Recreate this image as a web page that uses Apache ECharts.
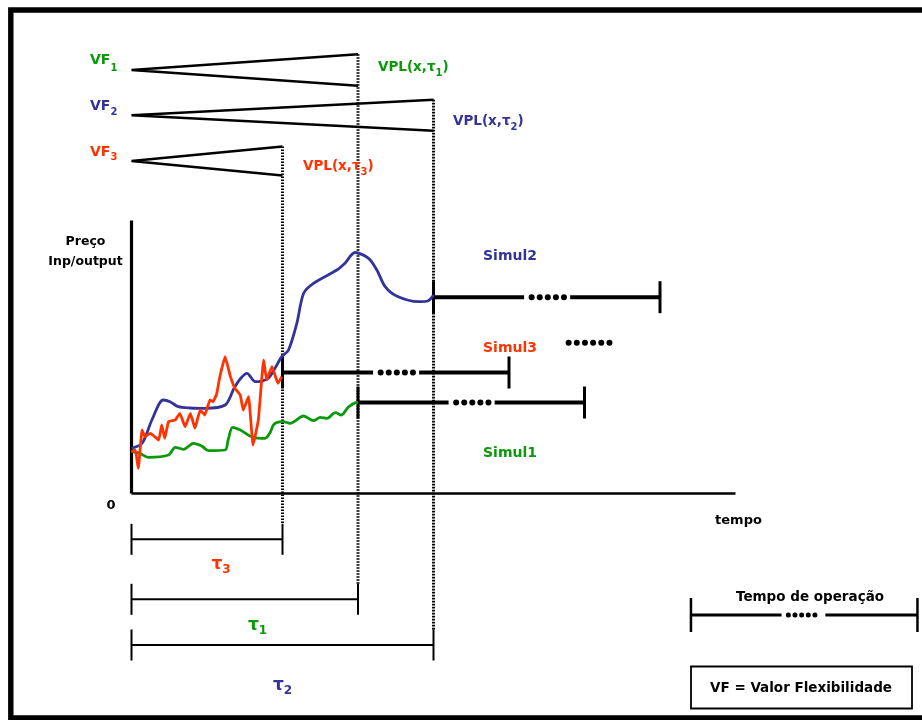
<!DOCTYPE html>
<html><head><meta charset="utf-8">
<script src="https://cdn.jsdelivr.net/npm/echarts@6/dist/echarts.min.js"></script>
<style>html,body{margin:0;padding:0;background:#fff}#c{width:922px;height:720px}</style>
</head><body><div id="c"></div>
<script>
// ---------------- data (time units: tau3 = 2, tau1 = 3, tau2 = 4) ----------------
const simulNames = ['Simul1', 'Simul2', 'Simul3'];
const tauNames = ['1', '2', '3'];
const tauValues = [3, 4, 2];              // exercise time of each option / simulation
const operationTime = 3;                  // length of operation period
const barLevels = [9.1, 19.63, 12.1];     // price level held during operation
const vfApex = [42.35, 37.82, 33.25];     // VF triangles (schematic)
const vfSpread = [1.58, 1.55, 1.45];
const yAxisTop = 27.3;
const xAxisEnd = 8;

const simul1 = [[0.00,4.18],[0.11,4.02],[0.22,3.62],[0.49,3.85],[0.58,4.62],[0.69,4.42],[0.82,5.02],[0.93,4.75],[1.02,4.28],[1.24,4.35],[1.28,5.35],[1.34,6.62],[1.44,6.35],[1.61,5.62],[1.77,5.52],[1.83,6.02],[1.88,6.85],[1.92,7.08],[2.01,7.18],[2.10,7.02],[2.28,7.75],[2.41,7.28],[2.50,7.62],[2.59,7.52],[2.70,8.08],[2.78,7.85],[2.87,8.62],[2.97,9.08],[3.00,9.10]];
const simul2 = [[0.00,4.52],[0.14,5.02],[0.27,7.35],[0.42,9.35],[0.51,9.18],[0.62,8.68],[0.78,8.55],[0.97,8.52],[1.24,8.85],[1.36,10.55],[1.45,11.55],[1.53,12.02],[1.64,11.18],[1.81,11.52],[1.90,12.52],[1.99,13.68],[2.08,14.35],[2.19,17.02],[2.28,20.02],[2.41,21.02],[2.72,22.35],[2.83,23.05],[2.96,24.10],[3.14,23.52],[3.25,22.35],[3.36,20.68],[3.51,19.75],[3.80,19.18],[3.93,19.28],[4.00,19.85]];
const simul3 = [[0.00,4.18],[0.05,4.35],[0.09,2.52],[0.14,6.35],[0.18,5.68],[0.25,6.02],[0.36,5.35],[0.40,6.85],[0.44,5.52],[0.49,7.18],[0.58,7.35],[0.64,8.02],[0.71,6.68],[0.78,8.02],[0.84,6.52],[0.91,8.35],[0.97,7.85],[1.04,9.35],[1.08,9.18],[1.13,10.02],[1.17,11.68],[1.24,13.68],[1.31,11.68],[1.37,10.52],[1.44,9.85],[1.48,8.35],[1.55,9.68],[1.61,4.85],[1.68,7.35],[1.75,13.35],[1.79,11.35],[1.86,12.68],[1.94,11.02],[1.99,11.68]];

// ---------------- styles ----------------
const GREEN = '#0a990a', BLUE = '#333399', RED = '#ff3300';
const colors = [GREEN, BLUE, RED];
const FONT = '"DejaVu Sans"';
const bracketLevels = [-10.58, -15.15, -4.58];
const bracketH = 1.55;

const chart = echarts.init(document.getElementById('c'), null, {renderer: 'canvas'});

const blackLines = (coordsList, width, type) => ({
  type: 'lines', coordinateSystem: 'cartesian2d', polyline: true, silent: true,
  lineStyle: {color: '#000', width: width, type: type || 'solid', opacity: 1, curveness: 0},
  data: coordsList.map(c => ({coords: c})), z: 3
});

const series = [];
// axes (drawn as partial lines)
series.push(blackLines([[[0, yAxisTop], [0, 0]]], 3.2));
series.push(blackLines([[[0, 0], [xAxisEnd, 0]]], 2.6));

// VF triangles
const tri = [];
for (let i = 0; i < 3; i++) {
  tri.push([[tauValues[i], vfApex[i] + vfSpread[i]], [0, vfApex[i]], [tauValues[i], vfApex[i] - vfSpread[i]]]);
}
series.push(blackLines(tri, 2.6));

// dotted verticals
const dots = [];
for (let i = 0; i < 3; i++) {
  dots.push([[tauValues[i], vfApex[i] + vfSpread[i]], [tauValues[i], bracketLevels[i] + bracketH]]);
}
series.push(blackLines(dots, 3, [1.6, 1.4]));

// brackets
const br = [];
for (let i = 0; i < 3; i++) {
  const y = bracketLevels[i], t = tauValues[i];
  br.push([[0, y + bracketH], [0, y - bracketH]]);
  br.push([[0, y], [t, y]]);
  br.push([[t, y + bracketH], [t, y - bracketH]]);
}
series.push(blackLines(br, 2));

// operation bars
function opBar(start, level, len, width, tickW, tickH, solidEnd, resume, dotStart, dotStep, dotN, dotSize) {
  const out = [];
  out.push(blackLines([[[start, level], [start + solidEnd, level]], [[start + resume, level], [start + len, level]]], width));
  out.push(blackLines([[[start, level + tickH], [start, level - tickH]], [[start + len, level + tickH], [start + len, level - tickH]]], tickW));
  const pts = [];
  for (let k = 0; k < dotN; k++) pts.push([start + dotStart + k * dotStep, level]);
  out.push({type: 'scatter', silent: true, symbol: 'circle', symbolSize: dotSize, itemStyle: {color: '#000', opacity: 1}, data: pts, z: 4});
  return out;
}
for (let i = 0; i < 3; i++) {
  series.push(...opBar(tauValues[i], barLevels[i], operationTime, 4, 3, 1.6, 1.2, 1.81, 1.30, 0.107, 5, 6));
}
// standalone "......"
const ell = [];
for (let k = 0; k < 6; k++) ell.push([5.79 + k * 0.108, 15.08]);
series.push({type: 'scatter', silent: true, symbol: 'circle', symbolSize: 6, itemStyle: {color: '#000', opacity: 1}, data: ell});
// legend operation bar
series.push(...opBar(7.41, -12.15, operationTime, 3, 2.5, 1.7, 1.2, 1.78, 1.29, 0.088, 5, 5));

// price curves
[[simul1, GREEN, 0.3], [simul2, BLUE, 0.3], [simul3, RED, 0.1]].forEach(([d, c, sm], i) => {
  series.push({type: 'line', name: simulNames[i], data: d, smooth: sm, symbol: 'none', silent: true,
    lineStyle: {color: c, width: 2.8}, z: 5});
});

// ---------------- text ----------------
const mctx = document.createElement('canvas').getContext('2d');
function tw(s, size) { mctx.font = 'bold ' + size + 'px ' + FONT; return mctx.measureText(s).width; }
function txt(t, x, y, color, size, align) {
  return {type: 'text', x: x, y: y, silent: true, z: 10,
    style: {text: t, fill: color, fontSize: size, fontWeight: 'bold', fontFamily: FONT,
      align: align || 'left', verticalAlign: 'middle', textAlign: align || 'left', textVerticalAlign: 'middle'}};
}
function subTxt(parts, x, y, color, size, subSize, subDy) {
  const els = [];
  let cx = x;
  parts.forEach((p, idx) => {
    const isSub = idx % 2 === 1;
    const fs = isSub ? subSize : size;
    if (p) { els.push(txt(p, cx, y + (isSub ? subDy : 0), color, fs)); cx += tw(p, fs); }
  });
  return els;
}
const g = [];
g.push({type: 'rect', silent: true, shape: {x: 10.8, y: 10, width: 1000, height: 708}, style: {fill: 'none', stroke: '#000', lineWidth: 5.4}});
g.push({type: 'rect', silent: true, shape: {x: 691, y: 666.5, width: 221, height: 42}, style: {fill: 'none', stroke: '#000', lineWidth: 1.8}});
// VF labels
[[60, 8], [106, 6.5], [152, 5.5]].forEach(([y, dy], i) => {
  g.push(...subTxt(['VF', tauNames[i]], 90, y, colors[i], 14, 10, dy));
});
// VPL labels
g.push(...subTxt(['VPL(x,τ', '1', ')'], 378, 67, GREEN, 13.5, 10, 6.5));
g.push(...subTxt(['VPL(x,τ', '2', ')'], 453, 121, BLUE, 13.5, 10, 6.5));
g.push(...subTxt(['VPL(x,τ', '3', ')'], 303, 166, RED, 13.5, 10, 6.5));
// Simul labels
g.push(txt('Simul2', 483, 256.5, BLUE, 14));
g.push(txt('Simul3', 483, 348.5, RED, 14));
g.push(txt('Simul1', 483, 453.5, GREEN, 14));
// tau labels
g.push(...subTxt(['τ', '3'], 211.5, 565, RED, 17, 12, 5));
g.push(...subTxt(['τ', '1'], 248, 626, GREEN, 17, 12, 5));
g.push(...subTxt(['τ', '2'], 273, 686, BLUE, 17, 12, 5));
// black labels
g.push(txt('Preço', 85.5, 242, '#000', 12.5, 'center'));
g.push(txt('Inp/output', 85.5, 262, '#000', 12.5, 'center'));
g.push(txt('0', 111, 505.5, '#000', 13, 'center'));
g.push(txt('tempo', 738.5, 521, '#000', 13, 'center'));
g.push(txt('Tempo de operação', 810, 597, '#000', 13.5, 'center'));
g.push(txt('VF = Valor Flexibilidade', 801, 688, '#000', 13.5, 'center'));

chart.setOption({
  animation: false,
  backgroundColor: '#fff',
  grid: {left: 0, right: 0, top: 0, bottom: 0},
  xAxis: {type: 'value', min: -131.5 / 75.5, max: (922 - 131.5) / 75.5, show: false},
  yAxis: {type: 'value', min: -22.65, max: 49.35, show: false},
  series: series,
  graphic: g
});
</script></body></html>
